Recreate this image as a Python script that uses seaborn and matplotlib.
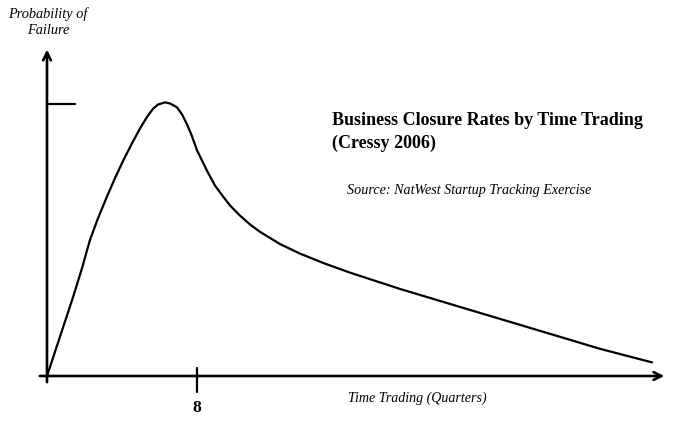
import matplotlib
matplotlib.use("Agg")
import matplotlib.pyplot as plt
import seaborn as sns
import pandas as pd

# curve (x in quarters, y relative to the marked peak level)
quarters = [0, 1.39, 1.87, 2.29, 2.72, 3.20, 3.63, 4.05, 4.53, 4.96, 5.33, 5.65,
            5.92, 6.29, 6.56, 6.93, 7.2, 7.47, 7.73, 8.0, 8.53, 8.96, 9.39, 9.76,
            10.29, 10.83, 11.36, 12.43, 13.49, 14.83, 16.16, 18.83, 21.49, 24.16,
            26.83, 29.49, 32.27]
prob = [0, 0.29, 0.397, 0.50, 0.58, 0.66, 0.728, 0.79, 0.855, 0.91, 0.952, 0.982,
        0.998, 1.006, 1.002, 0.988, 0.962, 0.925, 0.882, 0.83, 0.755, 0.70, 0.66, 0.627,
        0.59, 0.557, 0.53, 0.485, 0.45, 0.413, 0.38, 0.32, 0.265, 0.21,
        0.155, 0.10, 0.05]

x_tick = 8
y_tick = 1.0

title = "Business Closure Rates by Time Trading\n(Cressy 2006)"
source = "Source: NatWest Startup Tracking Exercise"
x_label = "Time Trading (Quarters)"
y_label = "Probability of\nFailure"

sns.set_style("white")
plt.rcParams["font.family"] = ["Liberation Serif", "DejaVu Serif"]
plt.rcParams["text.color"] = "black"

df = pd.DataFrame({"quarter": quarters, "prob": prob})

fig = plt.figure(figsize=(6.8, 4.23), dpi=100)
ax = fig.add_axes([0, 0, 1, 1])

sns.lineplot(data=df, x="quarter", y="prob", color="black", linewidth=1.6, ax=ax)

# pixel -> data mapping: x0 at 47px, 18.75 px per quarter; y0 at 376px, 272 px per unit
ax.set_xlim(-47 / 18.75, (680 - 47) / 18.75)
ax.set_ylim((376 - 423) / 272, 376 / 272)
ax.axis("off")

arrow = dict(arrowstyle="->", color="black", lw=1.9, mutation_scale=14)
ax.annotate("", xy=(33.07, 0), xytext=(-0.53, 0), arrowprops=arrow)
ax.annotate("", xy=(0, 1.21), xytext=(0, -0.033), arrowprops=arrow)

# tick marks
ax.plot([0, 1.49], [y_tick, y_tick], color="black", lw=1.6)
ax.plot([x_tick, x_tick], [0.029, -0.059], color="black", lw=1.6)

fig.text(197 / 680, 1 - 408 / 423, str(x_tick), ha="center", va="center",
         fontsize=12.5, fontweight="bold", color="black")
fig.text(48 / 680, 1 - 22 / 423, y_label, ha="center", va="center",
         fontsize=10.3, style="italic", linespacing=1.3, color="black")
fig.text(332 / 680, 1 - 112 / 423, title, ha="left", va="top",
         fontsize=13, fontweight="bold", linespacing=1.4, color="black")
fig.text(347 / 680, 1 - 190 / 423, source, ha="left", va="center",
         fontsize=10.2, style="italic", color="black")
fig.text(348 / 680, 1 - 398 / 423, x_label, ha="left", va="center",
         fontsize=10.1, style="italic", color="black")

plt.savefig("out.png", dpi=100)
plt.close()
